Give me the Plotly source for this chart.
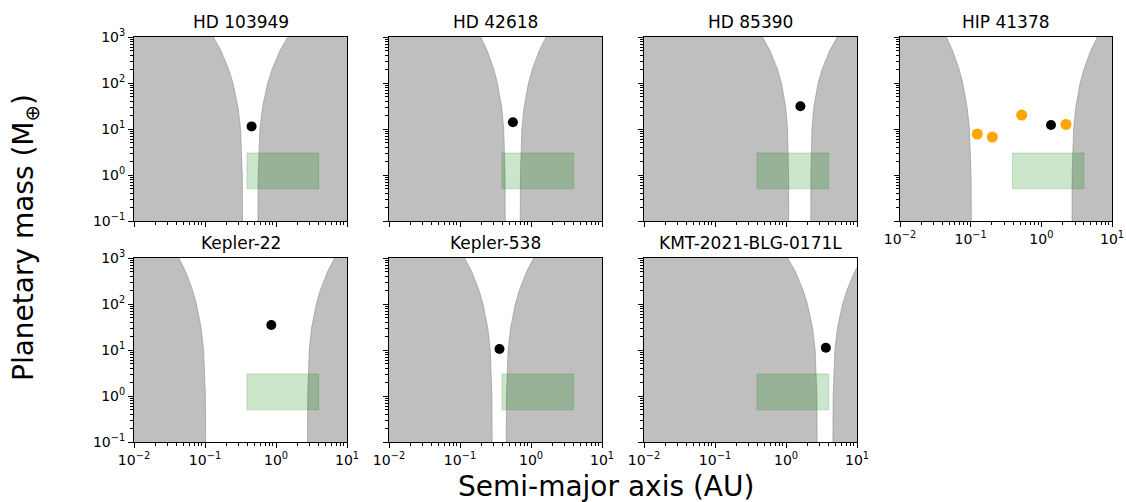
import plotly.graph_objects as go

# ---------------- data ----------------
SYSTEMS = ["HD 103949", "HD 42618", "HD 85390", "HIP 41378",
           "Kepler-22", "Kepler-538", "KMT-2021-BLG-0171L"]
PLANET_A = [0.453, 0.556, 1.595, 1.37, 0.859, 0.360, 3.64]
PLANET_M = [11.4, 14.0, 31.1, 12.2, 34.9, 10.5, 11.2]
HIP_OTHER_A = [0.124, 0.2025, 0.527, 2.234]
HIP_OTHER_M = [7.79, 6.70, 20.1, 12.6]

MASS_LEVELS = [0.1, 1, 10, 30, 100, 200, 500, 1000]
INNER_EDGE_A = [
    [0.3375, 0.3354, 0.3169, 0.2918, 0.2474, 0.2153, 0.1681, 0.1312],
    [0.433, 0.431, 0.413, 0.386, 0.336, 0.299, 0.242, 0.196],
    [1.091, 1.087, 1.051, 0.990, 0.862, 0.758, 0.597, 0.467],
    [0.1022, 0.1014, 0.0960, 0.0890, 0.0772, 0.0686, 0.0557, 0.0453],
    [0.1022, 0.1014, 0.0955, 0.0882, 0.0757, 0.0668, 0.0535, 0.0429],
    [0.2836, 0.2818, 0.2666, 0.2463, 0.2111, 0.1851, 0.1469, 0.1164],
    [2.746, 2.725, 2.575, 2.368, 2.004, 1.742, 1.357, 1.056],
]
OUTER_EDGE_A = [
    [0.5563, 0.5599, 0.5932, 0.6462, 0.7638, 0.8806, 1.1355, 1.463],
    [0.706, 0.710, 0.743, 0.798, 0.923, 1.044, 1.304, 1.630],
    [2.234, 2.241, 2.318, 2.463, 2.836, 3.232, 4.114, 5.268],
    [2.716, 2.731, 2.865, 3.074, 3.548, 4.008, 4.986, 6.201],
    [2.776, 2.794, 2.937, 3.169, 3.690, 4.205, 5.303, 6.69],
    [0.4477, 0.4507, 0.4762, 0.5157, 0.6014, 0.686, 0.8647, 1.091],
    [4.575, 4.61, 4.878, 5.302, 6.27, 7.211, 9.26, 11.9],
]
HZ_A = [0.39, 4.0]
HZ_M = [0.5, 3.0]

X_TICKS = [0.01, 0.1, 1, 10]
X_TICKTEXT = ["10<sup>−2</sup>", "10<sup>−1</sup>", "10<sup>0</sup>", "10<sup>1</sup>"]
Y_TICKS = [0.1, 1, 10, 100, 1000]
Y_TICKTEXT = ["10<sup>−1</sup>", "10<sup>0</sup>", "10<sup>1</sup>", "10<sup>2</sup>", "10<sup>3</sup>"]

# ---------------- layout geometry ----------------
W, H = 1126, 502
COL_X = [(134, 347), (389, 602), (644, 857), (900, 1112)]
ROW_Y = [(37, 221), (258, 442)]
FONT = "DejaVu Sans"

x_minor = [k * 10 ** e for e in (-2, -1, 0) for k in range(2, 10)]
y_minor = [k * 10 ** e for e in (-1, 0, 1, 2) for k in range(2, 10)]

GRAY = "rgba(128,128,128,0.5)"
GREEN = "rgba(0,128,0,0.2)"

fig = go.Figure()
layout = dict(
    width=W, height=H, margin=dict(l=0, r=0, t=0, b=0, autoexpand=False),
    paper_bgcolor="white", plot_bgcolor="white", showlegend=False,
    font=dict(family=FONT, color="black"),
)
annotations = []

for i, name in enumerate(SYSTEMS):
    r, c = divmod(i, 4)
    sfx = "" if i == 0 else str(i + 1)
    xa, ya = "x" + sfx, "y" + sfx
    x0, x1 = COL_X[c]
    y0, y1 = ROW_Y[r]

    # inner unstable region
    fig.add_trace(go.Scatter(
        x=[1e-3] + INNER_EDGE_A[i] + [1e-3],
        y=[0.01] + MASS_LEVELS + [1e5],
        mode="lines", fill="toself", fillcolor=GRAY,
        line=dict(color=GRAY, width=1), hoverinfo="skip",
        xaxis=xa, yaxis=ya))
    # outer unstable region
    fig.add_trace(go.Scatter(
        x=[1e3] + OUTER_EDGE_A[i] + [1e3],
        y=[0.01] + MASS_LEVELS + [1e5],
        mode="lines", fill="toself", fillcolor=GRAY,
        line=dict(color=GRAY, width=1), hoverinfo="skip",
        xaxis=xa, yaxis=ya))
    # habitable-zone box
    fig.add_trace(go.Scatter(
        x=[HZ_A[0], HZ_A[1], HZ_A[1], HZ_A[0], HZ_A[0]],
        y=[HZ_M[0], HZ_M[0], HZ_M[1], HZ_M[1], HZ_M[0]],
        mode="lines", fill="toself", fillcolor=GREEN,
        line=dict(color=GREEN, width=1), hoverinfo="skip",
        xaxis=xa, yaxis=ya))
    if name == "HIP 41378":
        fig.add_trace(go.Scatter(
            x=HIP_OTHER_A, y=HIP_OTHER_M, mode="markers",
            marker=dict(color="#ffa500", size=11, line=dict(width=0)),
            xaxis=xa, yaxis=ya))
    fig.add_trace(go.Scatter(
        x=[PLANET_A[i]], y=[PLANET_M[i]], mode="markers",
        marker=dict(color="black", size=10, line=dict(width=0)),
        xaxis=xa, yaxis=ya))

    show_x = (r == 1) or (c == 3)
    show_y = (c == 0)
    common = dict(
        type="log", showgrid=False, zeroline=False, automargin=False,
        showline=True, mirror=True, linecolor="black", linewidth=1,
        ticks="outside", ticklen=5, tickwidth=1, tickcolor="black",
        tickfont=dict(family=FONT, size=14, color="black"),
    )
    layout["xaxis" + sfx] = dict(
        common, domain=[x0 / W, x1 / W], range=[-2, 1], anchor=ya,
        tickmode="array", tickvals=X_TICKS, ticktext=X_TICKTEXT,
        showticklabels=show_x,
        minor=dict(tickmode="array", tickvals=x_minor, ticks="outside",
                   ticklen=3, tickwidth=0.8, tickcolor="black", showgrid=False),
    )
    layout["yaxis" + sfx] = dict(
        common, domain=[1 - y1 / H, 1 - y0 / H], range=[-1, 3], anchor=xa,
        tickmode="array", tickvals=Y_TICKS, ticktext=Y_TICKTEXT,
        showticklabels=show_y,
        minor=dict(tickmode="array", tickvals=y_minor, ticks="outside",
                   ticklen=3, tickwidth=0.8, tickcolor="black", showgrid=False),
    )
    annotations.append(dict(
        text=name, xref="paper", yref="paper",
        x=(x0 + x1) / 2 / W, y=1 - y0 / H, xanchor="center", yanchor="bottom",
        yshift=3, showarrow=False, font=dict(family=FONT, size=17, color="black")))

annotations.append(dict(
    text="Semi-major axis (AU)", xref="paper", yref="paper",
    x=606 / W, y=1 - 486 / H, xanchor="center", yanchor="middle",
    showarrow=False, font=dict(family=FONT, size=28, color="black")))
annotations.append(dict(
    text="Planetary mass (M<sub>⊕</sub>)", xref="paper", yref="paper",
    x=25 / W, y=1 - 238 / H, xanchor="center", yanchor="middle", textangle=-90,
    showarrow=False, font=dict(family=FONT, size=28, color="black")))

layout["annotations"] = annotations
fig.update_layout(**layout)
fig.write_html("out.html")
